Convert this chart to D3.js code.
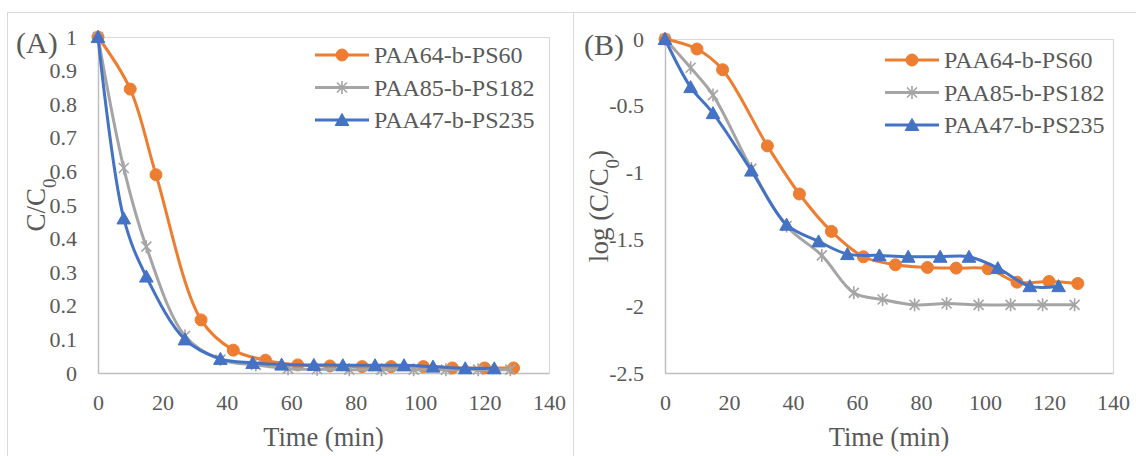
<!DOCTYPE html>
<html>
<head>
<meta charset="utf-8">
<script src="https://cdn.jsdelivr.net/npm/d3@7"></script>
<style>
  html, body { margin: 0; padding: 0; background: #ffffff; }
  svg { display: block; }
  svg text { font-family: "Liberation Serif", "Times New Roman", serif !important; fill: #595959; }
</style>
</head>
<body>
<svg id="chart" width="1136" height="456"></svg>
<script>
// ---------------- DATA ----------------
const seriesNames = ["PAA64-b-PS60", "PAA85-b-PS182", "PAA47-b-PS235"];

const timeOrange = [0, 10, 18, 32, 42, 52, 62, 72, 82, 91, 101, 110, 120, 129];
const timeGray   = [0, 8, 15, 27, 38, 49, 59, 68, 78, 88, 98, 108, 118, 128];
const timeBlue   = [0, 8, 15, 27, 38, 48, 57, 67, 76, 86, 95, 104, 114, 123];

// Panel A: C/C0
const ratioOrange = [1, 0.845, 0.59, 0.158, 0.068, 0.038, 0.024, 0.021, 0.019, 0.019, 0.019, 0.015, 0.015, 0.015];
const ratioGray   = [1, 0.61, 0.376, 0.11, 0.04, 0.024, 0.013, 0.011, 0.010, 0.010, 0.010, 0.010, 0.010, 0.010];
const ratioBlue   = [1, 0.46, 0.287, 0.10, 0.042, 0.03, 0.025, 0.024, 0.023, 0.023, 0.023, 0.019, 0.014, 0.014];

// Panel B: log(C/C0)
const logOrange = [0, -0.075, -0.23, -0.80, -1.16, -1.44, -1.63, -1.69, -1.71, -1.715, -1.72, -1.82, -1.815, -1.83];
const logGray   = [0, -0.215, -0.42, -0.97, -1.40, -1.62, -1.90, -1.95, -1.99, -1.98, -1.99, -1.99, -1.99, -1.99];
const logBlue   = [0, -0.36, -0.555, -0.985, -1.39, -1.515, -1.61, -1.62, -1.63, -1.63, -1.63, -1.715, -1.85, -1.85];

const xTicks = [0, 20, 40, 60, 80, 100, 120, 140];
const yTicksA = [0, 0.1, 0.2, 0.3, 0.4, 0.5, 0.6, 0.7, 0.8, 0.9, 1];
const yTickLabelsA = ["0", "0.1", "0.2", "0.3", "0.4", "0.5", "0.6", "0.7", "0.8", "0.9", "1"];
const yTicksB = [0, -0.5, -1, -1.5, -2, -2.5];
const yTickLabelsB = ["0", "-0.5", "-1", "-1.5", "-2", "-2.5"];

// ---------------- STYLE ----------------
const colors = ["#ED7D31", "#A5A5A5", "#4472C4"];
const markers = ["circle", "star", "triangle"];
const FONT = "'Liberation Serif', 'Times New Roman', serif";

const svg = d3.select("#chart");

// chart-area borders
svg.append("rect").attr("x", 7.5).attr("y", 12.5).attr("width", 566).attr("height", 460)
  .attr("fill", "none").attr("stroke", "#d9d9d9").attr("stroke-width", 1);
svg.append("rect").attr("x", 573.5).attr("y", 12.5).attr("width", 580).attr("height", 460)
  .attr("fill", "none").attr("stroke", "#d9d9d9").attr("stroke-width", 1);

function drawMarker(g, type, color) {
  if (type === "circle") {
    g.append("circle").attr("r", 6).attr("fill", color).attr("stroke", color).attr("stroke-width", 1);
  } else if (type === "triangle") {
    g.append("path").attr("d", "M0,-6.5L6.8,5.5L-6.8,5.5Z").attr("fill", color).attr("stroke", color).attr("stroke-width", 1);
  } else {
    g.append("path").attr("d", "M-5,-5L5,5M-5,5L5,-5M0,-6.5L0,6.5")
      .attr("fill", "none").attr("stroke", color).attr("stroke-width", 1.6);
  }
}

function drawPanel(cfg) {
  const x = d3.scaleLinear().domain([0, 140]).range([cfg.left, cfg.right]);
  const y = d3.scaleLinear().domain(cfg.yDomain).range([cfg.bottom, cfg.top]);

  // plot-area border (top / right)
  svg.append("path")
    .attr("d", `M${cfg.left},${cfg.top + 0.5}H${cfg.right + 0.5}V${cfg.bottom}`)
    .attr("fill", "none").attr("stroke", "#d9d9d9").attr("stroke-width", 1.2);

  // axes
  const yAxis = d3.axisLeft(y).tickValues(cfg.yTicks)
    .tickFormat((d, i) => cfg.yLabels[i]).tickSize(0).tickPadding(21);
  const gy = svg.append("g").attr("transform", `translate(${cfg.left},0)`).call(yAxis);
  gy.attr("font-family", FONT).attr("font-size", 22);
  gy.select(".domain").attr("stroke", "#bfbfbf").attr("stroke-width", 1.5);
  gy.selectAll("text").attr("fill", "#595959");

  const xAxis = d3.axisBottom(x).tickValues(xTicks).tickFormat(d3.format("d")).tickSize(0).tickPadding(21);
  const gx = svg.append("g").attr("transform", `translate(0,${cfg.bottom})`).call(xAxis);
  gx.attr("font-family", FONT).attr("font-size", 22);
  gx.select(".domain").attr("stroke", "#bfbfbf").attr("stroke-width", 1.5);
  gx.selectAll("text").attr("fill", "#595959");

  // series
  const line = d3.line().x(d => x(d[0])).y(d => y(d[1])).curve(d3.curveCatmullRom.alpha(0.5));
  cfg.series.forEach((s, i) => {
    const pts = s.t.map((t, k) => [t, s.v[k]]);
    svg.append("path").attr("d", line(pts)).attr("fill", "none")
      .attr("stroke", colors[i]).attr("stroke-width", 3).attr("stroke-linejoin", "round");
    pts.forEach(p => {
      const g = svg.append("g").attr("transform", `translate(${x(p[0])},${y(p[1])})`);
      drawMarker(g, markers[i], colors[i]);
    });
  });

  // legend
  seriesNames.forEach((name, i) => {
    const ly = cfg.legendY + i * 32.5;
    svg.append("line").attr("x1", cfg.legendX).attr("x2", cfg.legendX + 54)
      .attr("y1", ly).attr("y2", ly).attr("stroke", colors[i]).attr("stroke-width", 3);
    const g = svg.append("g").attr("transform", `translate(${cfg.legendX + 27},${ly})`);
    drawMarker(g, markers[i], colors[i]);
    svg.append("text").attr("x", cfg.legendX + 59).attr("y", ly).attr("dy", "0.35em")
      .attr("font-family", FONT).attr("font-size", 24).text(name);
  });

  // panel label
  svg.append("text").attr("x", cfg.labelX).attr("y", cfg.top + 5).attr("dy", "0.35em")
    .attr("font-family", FONT).attr("font-size", 30).text(cfg.panelLabel);

  // x title
  svg.append("text").attr("x", (cfg.left + cfg.right) / 2).attr("y", 446)
    .attr("text-anchor", "middle").attr("font-family", FONT).attr("font-size", 26.5).text("Time (min)");

  // y title
  const yt = svg.append("text")
    .attr("transform", `translate(${cfg.yTitleX},${(cfg.top + cfg.bottom) / 2}) rotate(-90)`)
    .attr("text-anchor", "middle").attr("font-family", FONT).attr("font-size", 27);
  yt.append("tspan").text(cfg.yTitlePre);
  yt.append("tspan").attr("baseline-shift", "sub").attr("font-size", 19).text("0");
  yt.append("tspan").text(cfg.yTitlePost);
}

drawPanel({
  left: 98, right: 549, top: 37, bottom: 373,
  yDomain: [0, 1], yTicks: yTicksA, yLabels: yTickLabelsA,
  series: [
    { t: timeOrange, v: ratioOrange },
    { t: timeGray, v: ratioGray },
    { t: timeBlue, v: ratioBlue }
  ],
  legendX: 315, legendY: 55,
  panelLabel: "(A)", labelX: 16,
  yTitleX: 45, yTitlePre: "C/C", yTitlePost: ""
});

drawPanel({
  left: 665, right: 1113, top: 39, bottom: 373,
  yDomain: [-2.5, 0], yTicks: yTicksB, yLabels: yTickLabelsB,
  series: [
    { t: timeOrange, v: logOrange },
    { t: timeGray, v: logGray },
    { t: timeBlue, v: logBlue }
  ],
  legendX: 885, legendY: 60,
  panelLabel: "(B)", labelX: 584,
  yTitleX: 608, yTitlePre: "log (C/C", yTitlePost: ")"
});
</script>
</body>
</html>
